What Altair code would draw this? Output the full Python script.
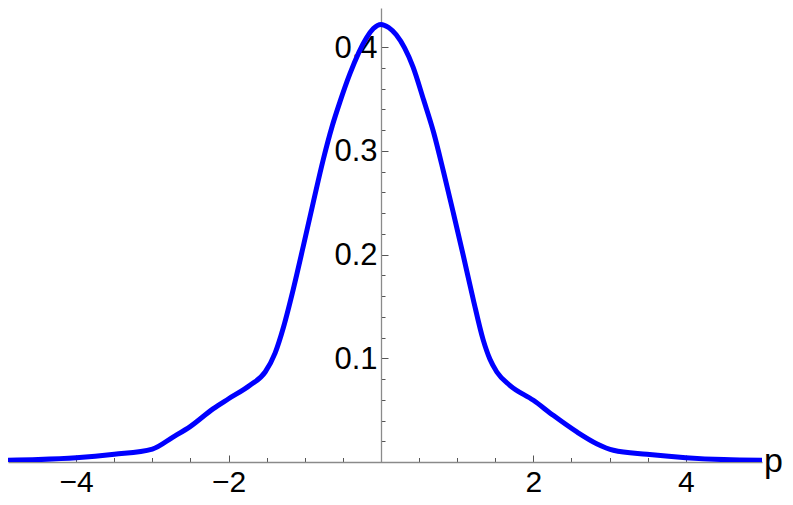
import altair as alt
import pandas as pd

# curve readings
p_vals = [-5.0, -4.5, -4.0, -3.5, -3.0, -2.73, -2.5, -2.2, -2.0, -1.72, -1.52, -1.39,
          -1.28, -1.15, -1.02, -0.89, -0.76, -0.64, -0.54, -0.41, -0.19, -0.1, 0.0,
          0.1, 0.2, 0.42, 0.56, 0.69, 0.82, 0.95, 1.08, 1.21, 1.34, 1.43, 1.52, 1.69,
          2.0, 2.26, 2.57, 2.83, 3.05, 3.49, 4.0, 4.5, 5.0]
density = [0.0016, 0.0023, 0.0040, 0.0074, 0.0125, 0.024, 0.0344, 0.0515, 0.061, 0.074,
           0.0868, 0.105, 0.130, 0.167, 0.208, 0.250, 0.291, 0.324, 0.347, 0.374,
           0.409, 0.418, 0.422, 0.419, 0.412, 0.381, 0.349, 0.318, 0.280, 0.240,
           0.199, 0.157, 0.118, 0.099, 0.0868, 0.074, 0.0595, 0.045, 0.029, 0.0177,
           0.0113, 0.0074, 0.0042, 0.0023, 0.0016]

x_major = [-4, -2, 2, 4]
x_minor = [-4.5, -4, -3.5, -3, -2.5, -2, -1.5, -1, -0.5, 0.5, 1, 1.5, 2, 2.5, 3, 3.5, 4, 4.5]
y_major = [0.1, 0.2, 0.3, 0.4]
y_minor = [0.02, 0.04, 0.06, 0.08, 0.10, 0.12, 0.14, 0.16, 0.18, 0.20, 0.22, 0.24,
           0.26, 0.28, 0.30, 0.32, 0.34, 0.36, 0.38, 0.40, 0.42]

df = pd.DataFrame({"p": p_vals, "v": density})

W, H = 754, 454
x_scale = alt.Scale(domain=[-4.895, 5.0], nice=False, zero=False)
y_scale = alt.Scale(domain=[0, 0.4378], nice=False, zero=False)

FONT = "Liberation Sans"
AX_GRAY = "#8a8a8a"
TICK_GRAY = "#555555"

x_major_axis = alt.Axis(orient="top", offset=-H, values=x_major, format="d", title=None,
                        grid=False, tickSize=7, tickColor=TICK_GRAY, tickWidth=1,
                        domainColor=AX_GRAY, domainWidth=1.3,
                        labelFont=FONT, labelFontSize=30, labelColor="black",
                        labelBaseline="alphabetic", labelPadding=-36,
                        labelFlush=False, labelOverlap=False)
y_major_axis = alt.Axis(orient="right", offset=-(W - 373), values=y_major, format=".1f",
                        title=None, grid=False, tickSize=7, tickColor=TICK_GRAY,
                        tickWidth=1, domainColor=AX_GRAY, domainWidth=1.3,
                        labelFont=FONT, labelFontSize=31, labelColor="black",
                        labelAlign="right", labelBaseline="middle", labelPadding=-11,
                        labelOffset=1, labelFlush=False, labelOverlap=False)
x_minor_axis = alt.Axis(orient="top", offset=-H, values=x_minor, title=None, grid=False,
                        labels=False, domain=False, tickSize=4.5, tickColor=TICK_GRAY,
                        tickWidth=1)
y_minor_axis = alt.Axis(orient="right", offset=-(W - 373), values=y_minor, title=None,
                        grid=False, labels=False, domain=False, tickSize=4,
                        tickColor=TICK_GRAY, tickWidth=1)

minor = alt.Chart(df).mark_line(opacity=0, clip=True).encode(
    x=alt.X("p:Q", scale=x_scale, axis=x_minor_axis),
    y=alt.Y("v:Q", scale=y_scale, axis=y_minor_axis),
)

curve = alt.Chart(df).mark_line(color="#0000ff", strokeWidth=5, clip=True,
                                interpolate="monotone").encode(
    x=alt.X("p:Q", scale=x_scale, axis=x_major_axis),
    y=alt.Y("v:Q", scale=y_scale, axis=y_major_axis),
)

label = alt.Chart(pd.DataFrame({"t": ["p"]})).mark_text(
    text="p", align="left", baseline="alphabetic", dx=2, dy=10,
    fontSize=34, font=FONT, color="black"
).encode(
    x=alt.X(datum=5.0, scale=x_scale, axis=None),
    y=alt.Y(datum=0, scale=y_scale, axis=None),
)

chart = alt.layer(minor, curve, label).resolve_axis(
    x="independent", y="independent"
).properties(
    width=W, height=H,
    padding={"left": 0, "top": 0, "right": 22, "bottom": 35},
    autosize=alt.AutoSizeParams(type="none"),
).configure_view(stroke=None)

chart.save("out.html", embed_options={"renderer": "svg", "actions": False})
